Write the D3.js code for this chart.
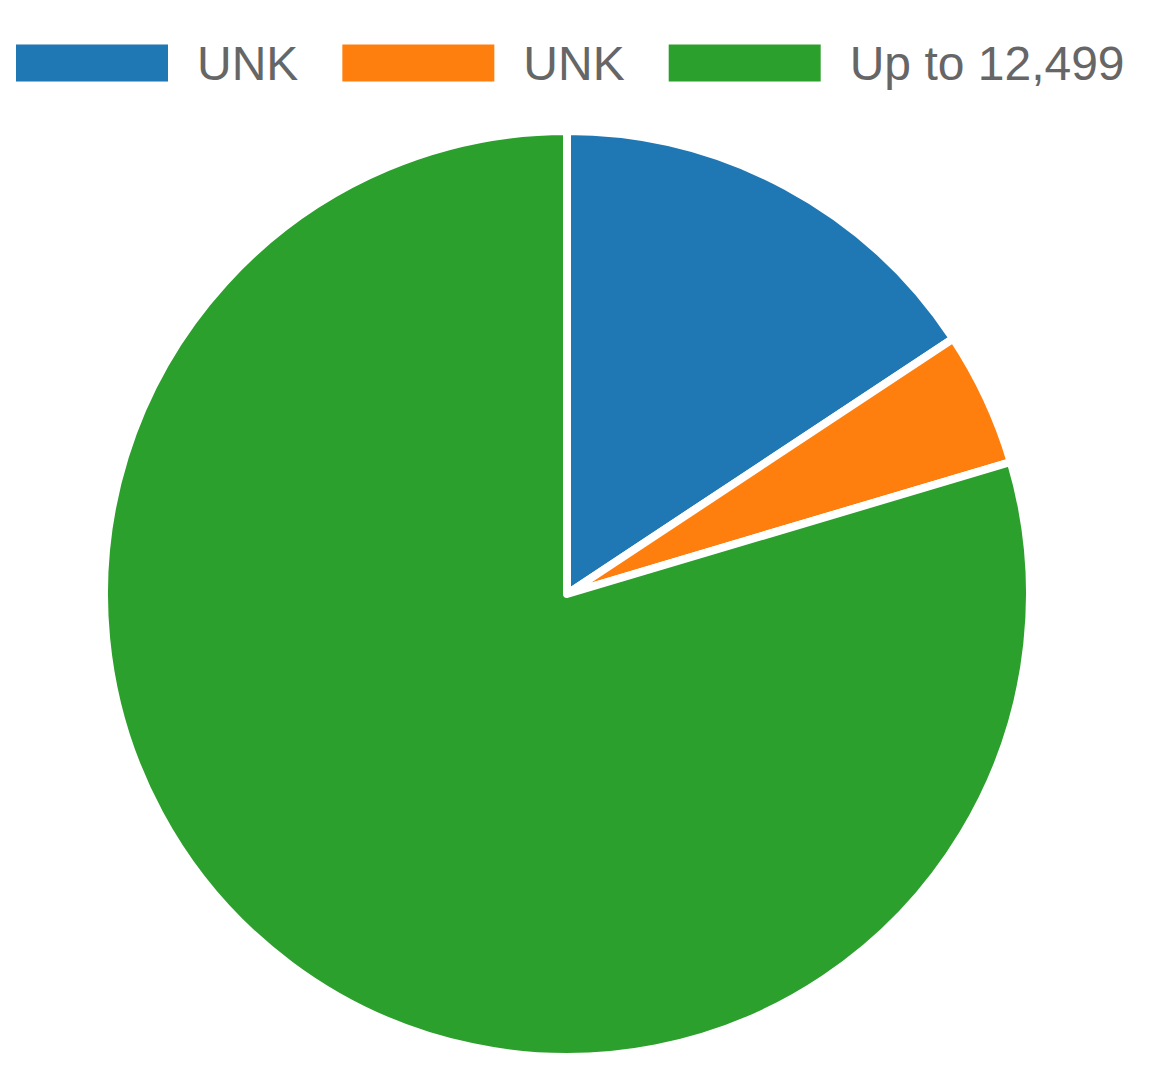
<!DOCTYPE html>
<html>
<head>
<meta charset="utf-8">
<script src="https://cdn.jsdelivr.net/npm/d3@7/dist/d3.min.js"></script>
<style>
  html, body { margin: 0; padding: 0; background: #fff; }
  svg { display: block; }
</style>
</head>
<body>
<svg id="chart" width="1154" height="1072"></svg>
<script>
// Slice labels, shares and colours, in drawing order (clockwise from 12 o'clock)
const categories = ["UNK", "UNK", "Up to 12,499"];
const values = [15.7, 4.7, 79.6];
const colors = ["#1f77b4", "#ff7f0e", "#2ca02c"];

const width = 1154, height = 1072;
const svg = d3.select("#chart");

// ---- Legend: row of swatches + labels ----
const fontSize = 48;
const boxW = 152, boxH = 37;
const textGap = 29, itemGap = 44;
const legendY = 63;
const legendX = 16;

const legend = svg.append("g").attr("class", "legend");
const items = legend.selectAll("g.item")
  .data(categories.map((c, i) => ({ label: c, color: colors[i] })))
  .join("g").attr("class", "item");

items.append("rect")
  .attr("width", boxW).attr("height", boxH)
  .attr("y", legendY - boxH / 2)
  .attr("fill", d => d.color);

items.append("text")
  .attr("x", boxW + textGap)
  .attr("y", legendY)
  .attr("dy", "0.35em")
  .attr("font-family", "'Liberation Sans', Arial, Helvetica, sans-serif")
  .attr("font-size", fontSize)
  .attr("fill", "#666")
  .text(d => d.label);

// lay items out left to right
let cursor = 0;
const offsets = [];
items.each(function () {
  const tw = d3.select(this).select("text").node().getComputedTextLength();
  offsets.push(cursor);
  cursor += boxW + textGap + tw + itemGap;
});
items.attr("transform", (d, i) => `translate(${legendX + offsets[i]},0)`);

// ---- Pie ----
const cx = 567, cy = 594;
const radius = 463;

const pie = d3.pie().sort(null).value(d => d)
  .startAngle(0).endAngle(2 * Math.PI);
const arc = d3.arc().innerRadius(0).outerRadius(radius);

svg.append("g")
  .attr("transform", `translate(${cx},${cy})`)
  .selectAll("path")
  .data(pie(values))
  .join("path")
  .attr("d", arc)
  .attr("fill", (d, i) => colors[i])
  .attr("stroke", "#fff")
  .attr("stroke-width", 8)
  .attr("stroke-linejoin", "round");
</script>
</body>
</html>
